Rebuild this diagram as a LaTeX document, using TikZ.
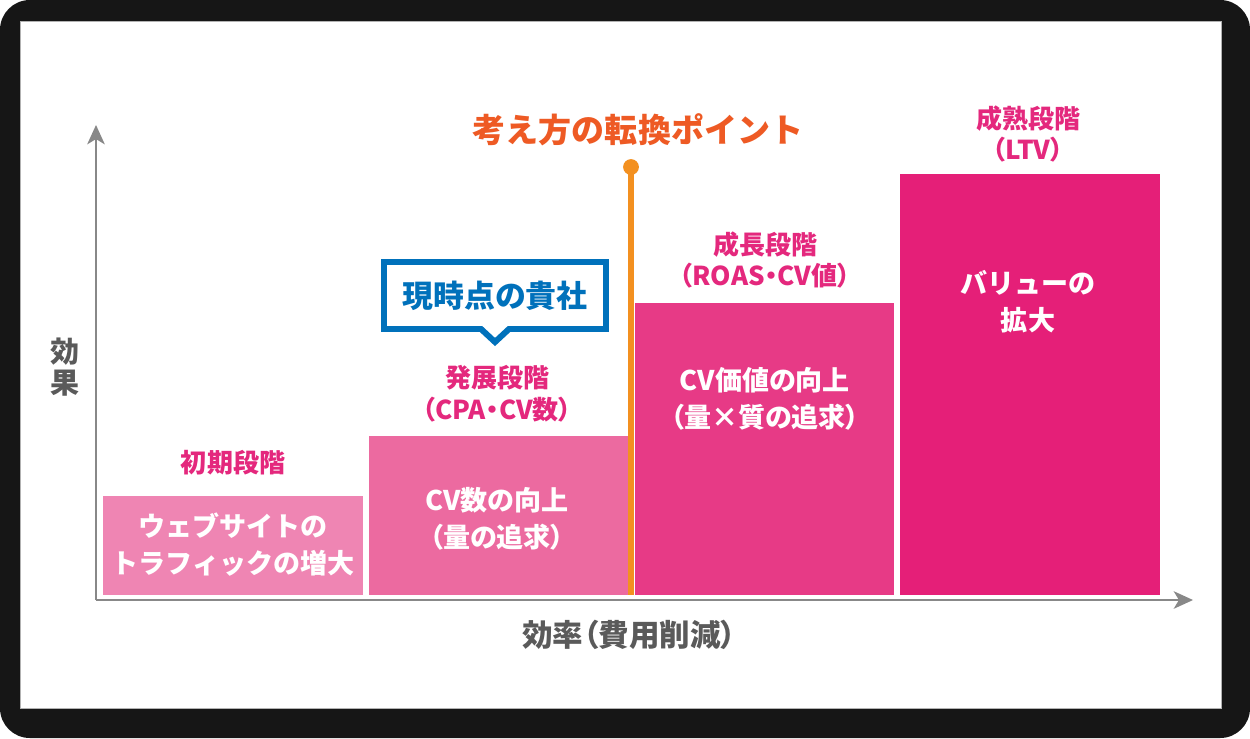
\documentclass[tikz,border=0pt]{standalone}
\usepackage{fontspec}
\setmainfont{Noto Sans CJK JP}
\newfontfamily\paltfont{Noto Sans CJK JP}[RawFeature=+palt]
\usetikzlibrary{arrows.meta}

\begin{document}
\begin{tikzpicture}[x=0.02cm, y=-0.02cm,
    stagelabel/.style={text=labelPink, font=\paltfont\bfseries\fontsize{14.8}{18.2}\selectfont, align=center},
    bartext/.style={text=white, font=\bfseries\fontsize{15.4}{21}\selectfont, align=center},
    barpalt/.style={bartext, font=\paltfont\bfseries\fontsize{15.4}{21}\selectfont},
    axislabel/.style={text=labelGrey, font=\paltfont\bfseries\fontsize{17.4}{17.6}\selectfont, align=center},
    axisarrow/.style={axisGrey, line width=1.1pt, -{Stealth[length=11pt, width=10pt, inset=3pt]}}]
    % Define colours
    \definecolor{frameBlack}{HTML}{161616}
    \definecolor{axisGrey}{HTML}{888888}
    \definecolor{labelGrey}{HTML}{5A5A5A}
    \definecolor{labelPink}{HTML}{E4287D}
    \definecolor{stageOne}{HTML}{EF85B3}
    \definecolor{stageTwo}{HTML}{EC6AA0}
    \definecolor{stageThree}{HTML}{E73A86}
    \definecolor{stageFour}{HTML}{E51F78}
    \definecolor{pivotOrange}{HTML}{F39020}
    \definecolor{titleOrange}{HTML}{EE5A24}
    \definecolor{bubbleBlue}{HTML}{0071BB}

    % Define bar baseline
    \def\barBase{595}

    % Draw frame
    \useasboundingbox (0,0) rectangle (1250,738);
    \fill[white] (0,0) rectangle (1250,738);
    \fill[frameBlack, rounded corners=17pt] (0,0) rectangle (1250,738);
    \filldraw[fill=white, draw=gray!60, line width=0.5pt] (20,21) rectangle (1221,708);

    % Draw bars
    \fill[stageOne] (103,496) rectangle (363,\barBase);
    \fill[stageTwo] (369,436) rectangle (628,\barBase);
    \fill[stageThree] (635,303) rectangle (894,\barBase);
    \fill[stageFour] (900,174) rectangle (1160,\barBase);

    % Draw axes
    \coordinate (origin) at (96,600);
    \coordinate (ytip) at (96,125);
    \coordinate (xtip) at (1193,600);
    \draw[axisarrow] (origin) -- (ytip);
    \draw[axisarrow] (origin) -- (xtip);

    % Label axes
    \node[axislabel, font=\paltfont\bfseries\fontsize{16.5}{17.6}\selectfont] (effect) at (65,367) {効\\果};
    \node[axislabel] (efficiency) at (629,635) {効率（費用削減）};

    % Draw the turning point line
    \node[circle, fill=pivotOrange, inner sep=0, minimum size=9pt] (pivot) at (631,167) {};
    \coordinate (pivotbase) at (631,\barBase);
    \draw[pivotOrange, line width=3pt] (pivot.center) -- (pivotbase);
    \node[text=titleOrange, font=\bfseries\fontsize{18.8}{20}\selectfont] (title) at (638,130) {考え方の転換ポイント};

    % Label the stages
    \node[stagelabel] (initial) at (233,463) {初期段階};
    \node[stagelabel] (develop) at (497,394) {発展段階\\（CPA・CV数）};
    \node[stagelabel] (growth) at (765,260) {成長段階\\（ROAS・CV値）};
    \node[stagelabel] (mature) at (1028,134) {成熟段階\\（LTV）};

    % Label the bars
    \node[bartext] (traffic) at (233,545) {ウェブサイトの\\トラフィックの増大};
    \node[barpalt] (volume) at (497,519) {CV数の向上\\（量の追求）};
    \node[barpalt] (worth) at (765,399) {CV価値の向上\\（量×質の追求）};
    \node[bartext] (value) at (1028,302) {バリューの\\拡大};

    % Draw the speech bubble
    \filldraw[fill=white, draw=bubbleBlue, line width=3.4pt, miter limit=10]
        (384,262) -- (606,262) -- (606,329) -- (509,329) -- (495,342)
        -- (481,329) -- (384,329) -- cycle;
    \node[text=bubbleBlue, font=\bfseries\fontsize{17.6}{20}\selectfont] (current) at (495,296) {現時点の貴社};

\end{tikzpicture}
\end{document}
